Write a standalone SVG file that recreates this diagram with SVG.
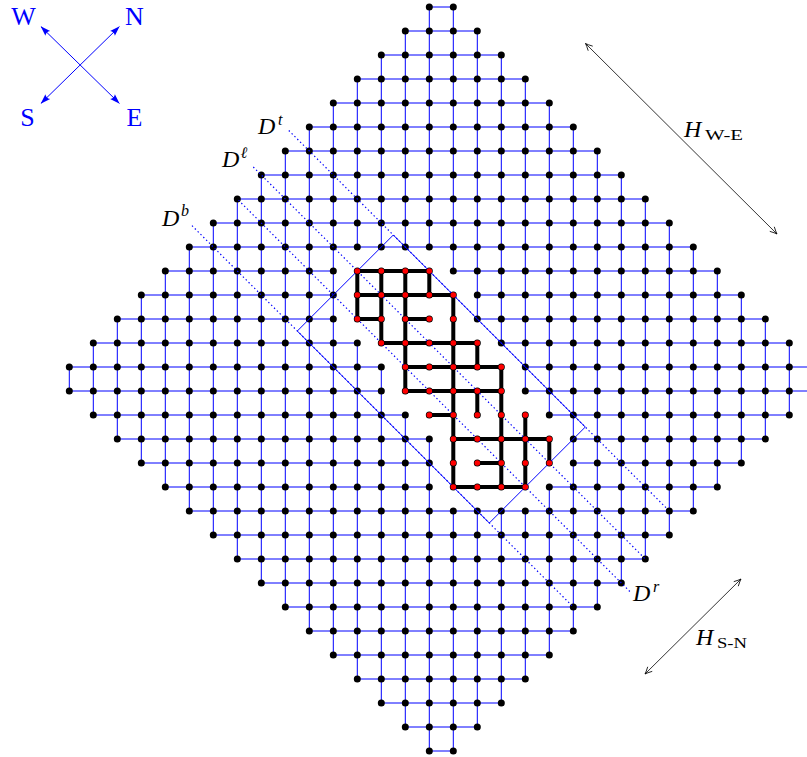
<svg xmlns="http://www.w3.org/2000/svg" width="807" height="757" viewBox="0 0 807 757">
<style>
.e{fill:none;stroke:#0000ff;stroke-width:1}
.k{fill:none;stroke:#000;stroke-width:4;stroke-linecap:round}
.d{fill:none;stroke:#000;stroke-width:7;stroke-linecap:round;stroke-dasharray:0.01 23.99}
.r{fill:none;stroke:#ff0000;stroke-width:5.6;stroke-linecap:round;stroke-dasharray:0.01 23.99}
.dl{fill:none;stroke:#0000ff;stroke-width:1.2;stroke-dasharray:1.4 2.6}
.m{font-family:"Liberation Serif","Times New Roman",serif;font-style:italic;font-size:24px;fill:#000}
.sup{font-family:"Liberation Serif","Times New Roman",serif;font-style:italic;font-size:16px;fill:#000}
.sub{font-family:"Liberation Serif","Times New Roman",serif;font-size:15px;fill:#000}
.cp{font-family:"Liberation Serif","Times New Roman",serif;font-size:26px;fill:#0000ff;text-anchor:middle}
</style>
<defs>
<marker id="la" viewBox="0 0 10 8" refX="9.5" refY="4" markerWidth="11" markerHeight="8" markerUnits="userSpaceOnUse" orient="auto-start-reverse">
<path d="M10 4 L0 0.6 Q2.5 4 0 7.4 Z" fill="#0000ff"/>
</marker>
<marker id="oa" viewBox="-8 -4 9 8" refX="0" refY="0" markerWidth="9" markerHeight="8" markerUnits="userSpaceOnUse" orient="auto-start-reverse">
<path d="M-7 -3.2 Q-2.5 -0.8 0 0 Q-2.5 0.8 -7 3.2" fill="none" stroke="#000" stroke-width="0.8"/>
</marker>
</defs>
<rect width="807" height="757" fill="#fff"/>
<g transform="translate(69.3,7)">
<g id="grid-edges">
<path class="e" d="M360 0H384 M336 24H408 M312 48H432 M288 72H456 M264 96H480 M240 120H504 M216 144H528 M192 168H552 M168 192H576 M144 216H600 M120 240H624 M96 264H264 M384 264H648 M72 288H264 M408 288H672 M48 312H264 M408 312H696 M24 336H288 M432 336H720 M0 360H312 M456 360H744 M0 384H312 M456 384H744 M24 408H336 M480 408H720 M48 432H360 M504 432H696 M72 456H360 M504 456H672 M96 480H360 M480 480H648 M120 504H624 M144 528H600 M168 552H576 M192 576H552 M216 600H528 M240 624H504 M264 648H480 M288 672H456 M312 696H432 M336 720H408 M360 744H384"/>
<path class="e" d="M0 360V384 M24 336V408 M48 312V432 M72 288V456 M96 264V480 M120 240V504 M144 216V528 M168 192V552 M192 168V576 M216 144V600 M240 120V624 M264 96V648 M288 72V240 M288 336V672 M312 48V240 M312 360V696 M336 24V240 M336 408V720 M360 0V240 M360 432V744 M384 0V264 M384 504V744 M408 24V312 M408 504V720 M432 48V336 M432 504V696 M456 72V384 M456 504V672 M480 96V408 M480 480V648 M504 120V624 M528 144V600 M552 168V576 M576 192V552 M600 216V528 M624 240V504 M648 264V480 M672 288V456 M696 312V432 M720 336V408 M744 360V384"/>
</g>
<g id="cluster-edges">
<path class="k" d="M288 264H360 M288 288H384 M288 312H312 M336 312H360 M312 336H408 M336 360H432 M336 384H432 M360 408H384 M384 432H480 M408 456H432 M384 480H456 M288 264V312 M312 264V336 M336 264V384 M360 264V288 M384 288V480 M408 336V360 M408 384V408 M432 360V480 M456 408V480 M480 432V456"/>
</g>
<g id="grid-dots">
<path class="d" d="M360 0H384.5"/>
<path class="d" d="M336 24H408.5"/>
<path class="d" d="M312 48H432.5"/>
<path class="d" d="M288 72H456.5"/>
<path class="d" d="M264 96H480.5"/>
<path class="d" d="M240 120H504.5"/>
<path class="d" d="M216 144H528.5"/>
<path class="d" d="M192 168H552.5"/>
<path class="d" d="M168 192H576.5"/>
<path class="d" d="M144 216H600.5"/>
<path class="d" d="M120 240H624.5"/>
<path class="d" d="M96 264H648.5"/>
<path class="d" d="M72 288H672.5"/>
<path class="d" d="M48 312H696.5"/>
<path class="d" d="M24 336H720.5"/>
<path class="d" d="M0 360H744.5"/>
<path class="d" d="M0 384H744.5"/>
<path class="d" d="M24 408H720.5"/>
<path class="d" d="M48 432H696.5"/>
<path class="d" d="M72 456H672.5"/>
<path class="d" d="M96 480H648.5"/>
<path class="d" d="M120 504H624.5"/>
<path class="d" d="M144 528H600.5"/>
<path class="d" d="M168 552H576.5"/>
<path class="d" d="M192 576H552.5"/>
<path class="d" d="M216 600H528.5"/>
<path class="d" d="M240 624H504.5"/>
<path class="d" d="M264 648H480.5"/>
<path class="d" d="M288 672H456.5"/>
<path class="d" d="M312 696H432.5"/>
<path class="d" d="M336 720H408.5"/>
<path class="d" d="M360 744H384.5"/>
</g>
<g id="rectangle">
<polygon points="324,228 516,420 420,516 228,324" fill="none" stroke="#0000ff" stroke-width="1"/>
</g>
</g>
<g id="diagonals">
<path class="dl" d="M288.8 130.5L667.3 509"/>
<path class="dl" d="M253.3 167L646 559.7"/>
<path class="dl" d="M238.5 200.2L630.5 592.2"/>
<path class="dl" d="M192 225.7L573.6 607.3"/>
</g>
<g transform="translate(69.3,7)">
<g id="cluster-dots">
<path class="r" d="M288 264H360.5"/>
<path class="r" d="M288 288H384.5"/>
<path class="r" d="M288 312H384.5"/>
<path class="r" d="M312 336H408.5"/>
<path class="r" d="M336 360H432.5"/>
<path class="r" d="M336 384H432.5"/>
<path class="r" d="M360 408H456.5"/>
<path class="r" d="M384 432H480.5"/>
<path class="r" d="M384 456H480.5"/>
<path class="r" d="M384 480H456.5"/>
</g>
</g>
<g id="diagonal-labels">
<text class="m" x="258" y="134">D</text><text class="sup" x="278" y="125">t</text>
<text class="m" x="222" y="167">D</text><text class="sup" x="240.5" y="158">ℓ</text>
<text class="m" x="162" y="226">D</text><text class="sup" x="181" y="216">b</text>
<text class="m" x="633" y="601">D</text><text class="sup" x="653" y="592">r</text>
</g>
<g id="compass">
<line x1="41" y1="26.7" x2="119.3" y2="103.3" stroke="#0000ff" stroke-width="1" marker-start="url(#la)" marker-end="url(#la)"/>
<line x1="41" y1="103.3" x2="119.3" y2="26.7" stroke="#0000ff" stroke-width="1" marker-start="url(#la)" marker-end="url(#la)"/>
<text class="cp" x="23.5" y="25">W</text>
<text class="cp" x="134.5" y="25">N</text>
<text class="cp" x="27.5" y="126">S</text>
<text class="cp" x="134.5" y="126">E</text>
</g>
<g id="arrows">
<line x1="585.5" y1="43.5" x2="777" y2="234" stroke="#000" stroke-width="0.8" marker-start="url(#oa)" marker-end="url(#oa)"/>
<line x1="645" y1="674" x2="741" y2="579" stroke="#000" stroke-width="0.8" marker-start="url(#oa)" marker-end="url(#oa)"/>
<text class="m" x="684" y="137">H</text><text class="sub" x="705" y="140" textLength="38" lengthAdjust="spacingAndGlyphs">W-E</text>
<text class="m" x="696" y="645">H</text><text class="sub" x="717" y="648" textLength="30" lengthAdjust="spacingAndGlyphs">S-N</text>
</g>
</svg>
